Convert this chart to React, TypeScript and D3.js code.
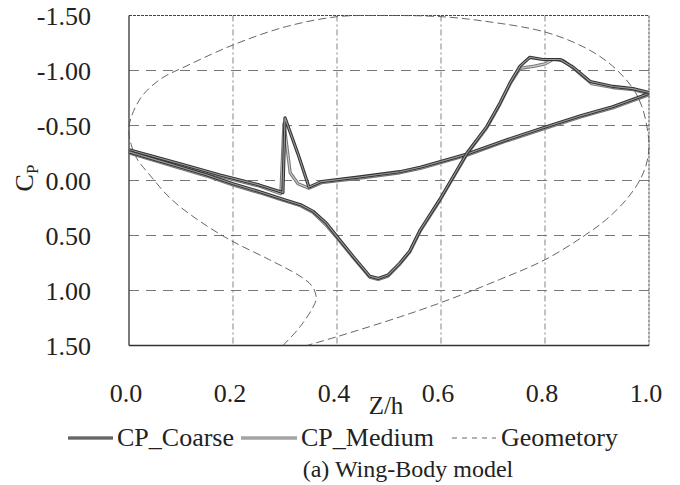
import * as d3 from 'd3';

const xTicks = [0, 0.2, 0.4, 0.6, 0.8, 1.0];
const yTicks = [-1.5, -1.0, -0.5, 0, 0.5, 1.0, 1.5];

// [Z/h, Cp]
const coarseBranchA: [number, number][] = [
  [0, -0.28], [0.046, -0.22], [0.1, -0.15], [0.175, -0.05], [0.25, 0.04], [0.296, 0.11],
  [0.3, -0.57], [0.325, -0.24], [0.346, 0.06], [0.37, 0.01], [0.44, -0.03], [0.521, -0.08],
  [0.56, -0.12], [0.65, -0.24], [0.72, -0.36], [0.804, -0.49], [0.87, -0.59], [0.93, -0.67], [1.0, -0.79],
];
const coarseBranchB: [number, number][] = [
  [0, -0.26], [0.05, -0.19], [0.1, -0.12], [0.15, -0.05], [0.2, 0.03], [0.25, 0.1], [0.296, 0.17],
  [0.33, 0.22], [0.354, 0.28], [0.38, 0.39], [0.4, 0.51], [0.431, 0.69], [0.463, 0.87], [0.479, 0.89],
  [0.498, 0.86], [0.521, 0.75], [0.54, 0.64], [0.56, 0.45], [0.598, 0.17], [0.65, -0.25], [0.688, -0.49],
  [0.713, -0.7], [0.733, -0.89], [0.752, -1.04], [0.771, -1.12], [0.796, -1.1], [0.829, -1.1],
  [0.854, -1.03], [0.887, -0.9], [0.931, -0.855], [0.969, -0.835], [1.0, -0.8],
];
const mediumBranchA: [number, number][] = [
  [0, -0.27], [0.046, -0.21], [0.1, -0.14], [0.175, -0.04], [0.25, 0.05], [0.292, 0.12],
  [0.298, -0.52], [0.31, -0.07], [0.325, 0.03], [0.346, 0.07], [0.37, 0.02], [0.44, -0.02],
  [0.521, -0.07], [0.56, -0.11], [0.65, -0.23], [0.72, -0.35], [0.804, -0.48], [0.87, -0.58], [0.93, -0.66], [1.0, -0.78],
];
const mediumBranchB: [number, number][] = [
  [0, -0.25], [0.05, -0.18], [0.1, -0.11], [0.15, -0.04], [0.2, 0.04], [0.25, 0.11], [0.296, 0.18],
  [0.33, 0.23], [0.354, 0.29], [0.38, 0.41], [0.4, 0.52], [0.431, 0.7], [0.463, 0.88], [0.479, 0.9],
  [0.498, 0.87], [0.521, 0.76], [0.54, 0.65], [0.56, 0.46], [0.598, 0.18], [0.65, -0.24], [0.688, -0.48],
  [0.713, -0.69], [0.733, -0.88], [0.752, -1.02], [0.78, -1.04], [0.8, -1.06], [0.815, -1.1],
  [0.835, -1.09], [0.86, -1.0], [0.89, -0.88], [0.93, -0.845], [0.97, -0.825], [1.0, -0.79],
];
const geometry: [number, number][] = [
  [0.296, 1.5], [0.329, 1.33], [0.354, 1.15], [0.36, 1.07], [0.352, 0.96], [0.329, 0.87], [0.27, 0.72],
  [0.194, 0.54], [0.13, 0.35], [0.079, 0.16], [0.04, -0.05], [0.015, -0.2], [0.004, -0.33], [0, -0.49],
  [0.021, -0.74], [0.06, -0.92], [0.11, -1.04], [0.202, -1.236], [0.303, -1.4], [0.402, -1.49],
  [0.48, -1.5], [0.598, -1.49], [0.681, -1.45], [0.8, -1.35], [0.88, -1.2], [0.93, -1.04], [0.97, -0.83],
  [0.988, -0.65], [0.998, -0.43], [1.0, -0.3], [0.995, -0.15], [0.982, 0.0], [0.957, 0.17], [0.919, 0.35],
  [0.873, 0.51], [0.8, 0.72], [0.713, 0.9], [0.6, 1.11], [0.521, 1.24], [0.4, 1.42], [0.342, 1.5],
];

const seriesNames = ['CP_Coarse', 'CP_Medium', 'Geometory'];

const font = "'Times New Roman', Tinos, 'Liberation Serif', 'Noto Serif', 'DejaVu Serif', FreeSerif, Times, serif";

export default function App() {
  const width = 680;
  const height = 485;
  const x = d3.scaleLinear().domain([0, 1]).range([129, 649]);
  const y = d3.scaleLinear().domain([-1.5, 1.5]).range([15.5, 345.5]);

  const line = d3
    .line<[number, number]>()
    .x((d) => x(d[0]))
    .y((d) => y(d[1]));
  const smooth = d3
    .line<[number, number]>()
    .x((d) => x(d[0]))
    .y((d) => y(d[1]))
    .curve(d3.curveCatmullRom);

  const [x0, x1] = x.range();
  const [y0, y1] = y.range();

  const doubleLine = (d: string | null, outer: string, inner: string, key: string) => (
    <g key={key}>
      <path d={d ?? ''} fill="none" stroke={outer} strokeWidth={3.2} strokeLinejoin="round" />
      <path d={d ?? ''} fill="none" stroke={inner} strokeWidth={1.1} strokeLinejoin="round" />
    </g>
  );

  const txt = { fontFamily: font, fill: '#222' };

  return (
    <svg
      width={width}
      height={height}
      style={{ position: 'absolute', left: 0, top: 0, background: '#fff', fontFamily: font }}
    >
      {/* grid */}
      {yTicks.slice(1, -1).map((t) => (
        <line key={'h' + t} x1={x0} x2={x1} y1={y(t)} y2={y(t)} stroke="#777" strokeWidth={1} strokeDasharray="10,7" />
      ))}
      {xTicks.slice(1, -1).map((t) => (
        <line key={'v' + t} x1={x(t)} x2={x(t)} y1={y0} y2={y1} stroke="#777" strokeWidth={0.9} strokeDasharray="6,3,2,3" />
      ))}
      {/* frame */}
      <line x1={x0} x2={x1} y1={y0} y2={y0} stroke="#444" strokeWidth={1} strokeDasharray="3,1" />
      <line x1={x1} x2={x1} y1={y0} y2={y1} stroke="#444" strokeWidth={1} strokeDasharray="3,1" />
      <line x1={x0} x2={x0} y1={y0} y2={y1} stroke="#333" strokeWidth={1.3} />
      <line x1={x0} x2={x1} y1={y1} y2={y1} stroke="#333" strokeWidth={1.3} />

      {/* geometry */}
      <path d={smooth(geometry) ?? ''} fill="none" stroke="#555" strokeWidth={0.9} strokeDasharray="8,4" />

      {/* Cp curves */}
      {doubleLine(line(mediumBranchA), '#777', '#cfcfcf', 'mA')}
      {doubleLine(line(mediumBranchB), '#777', '#cfcfcf', 'mB')}
      {doubleLine(line(coarseBranchA), '#333', '#9a9a9a', 'cA')}
      {doubleLine(line(coarseBranchB), '#333', '#9a9a9a', 'cB')}

      {/* y tick labels */}
      {yTicks.map((t) => (
        <text key={'yl' + t} x={91} y={y(t) + 9} textAnchor="end" fontSize={26} style={txt}>
          {t.toFixed(2)}
        </text>
      ))}
      {/* x tick labels */}
      {xTicks.map((t) => (
        <text key={'xl' + t} x={x(t) - 3} y={402} textAnchor="middle" fontSize={26} style={txt}>
          {t.toFixed(1)}
        </text>
      ))}
      {/* axis titles */}
      <text x={386} y={414} textAnchor="middle" fontSize={25} style={txt}>Z/h</text>
      <text transform="translate(33,178) rotate(-90)" textAnchor="middle" fontSize={26} style={txt}>
        C<tspan fontSize={17} dy={5}>P</tspan>
      </text>

      {/* legend */}
      {doubleLine(`M68,438H113`, '#333', '#9a9a9a', 'lg0')}
      <text x={117} y={446} fontSize={26} style={txt}>{seriesNames[0]}</text>
      {doubleLine(`M241,438H297`, '#777', '#cfcfcf', 'lg1')}
      <text x={301} y={446} fontSize={26} style={txt}>{seriesNames[1]}</text>
      <line x1={452} x2={496} y1={438} y2={438} stroke="#555" strokeWidth={0.9} strokeDasharray="5,5" />
      <text x={501} y={446} fontSize={26} style={txt}>{seriesNames[2]}</text>

      <text x={408} y={477} textAnchor="middle" fontSize={24} style={txt}>(a) Wing-Body model</text>
    </svg>
  );
}
